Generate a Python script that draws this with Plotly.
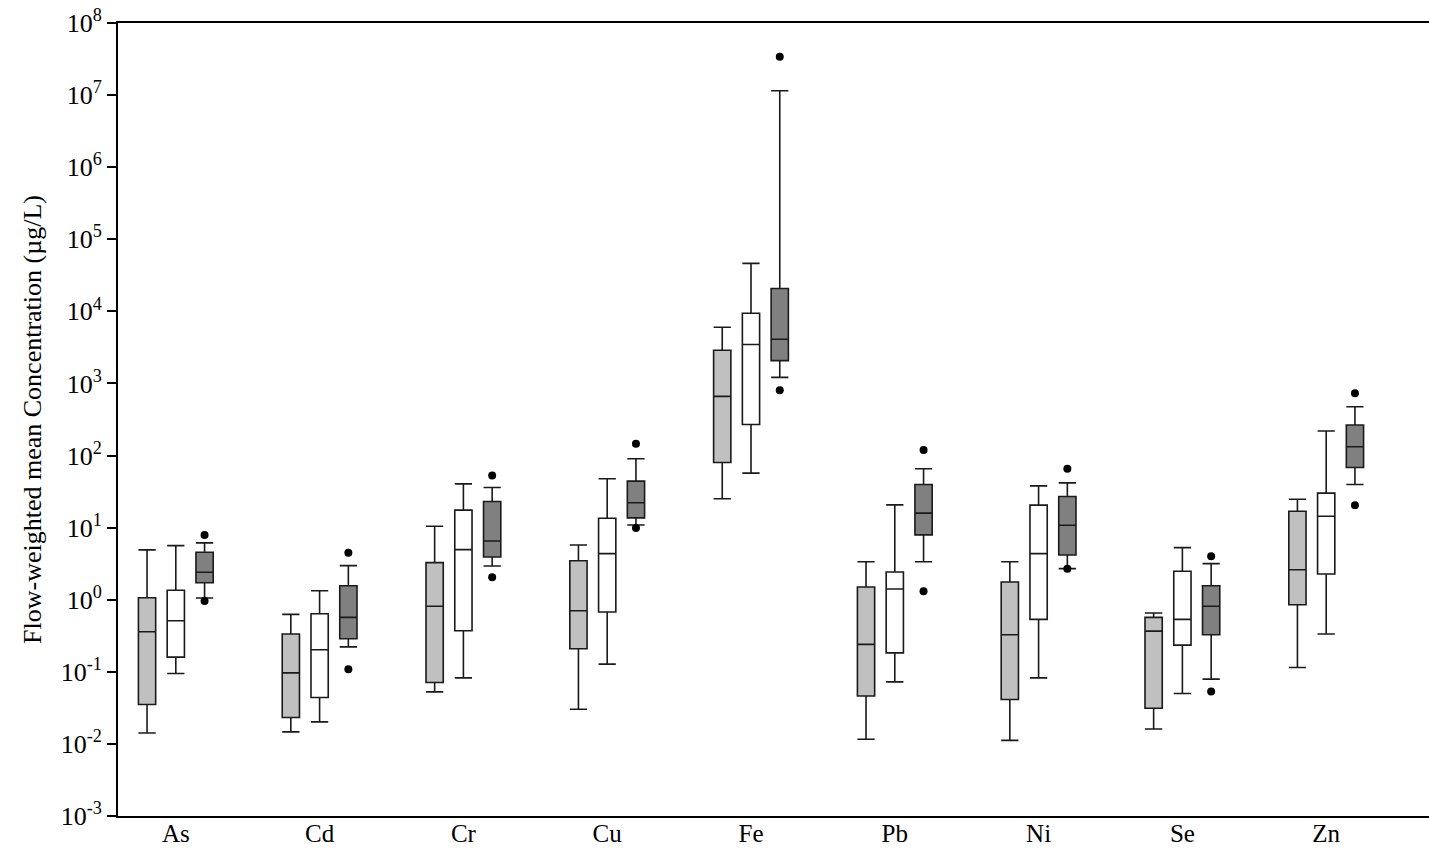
import plotly.graph_objects as go

categories = ["As", "Cd", "Cr", "Cu", "Fe", "Pb", "Ni", "Se", "Zn"]

# Light grey series
light_lowerfence = [0.0142, 0.0147, 0.0527, 0.0303, 25.1, 0.0116, 0.0112, 0.0161, 0.115]
light_q1 = [0.0352, 0.0232, 0.0711, 0.2085, 80.1, 0.0463, 0.0413, 0.0313, 0.852]
light_median = [0.359, 0.0967, 0.810, 0.703, 662, 0.240, 0.326, 0.367, 2.61]
light_q3 = [1.066, 0.334, 3.27, 3.48, 2884, 1.501, 1.762, 0.569, 16.9]
light_upperfence = [4.91, 0.627, 10.47, 5.75, 6026, 3.37, 3.37, 0.653, 24.8]

# White series
white_lowerfence = [0.0949, 0.0202, 0.0824, 0.1278, 57.1, 0.0725, 0.0824, 0.0500, 0.334]
white_q1 = [0.160, 0.0440, 0.371, 0.675, 270, 0.1834, 0.534, 0.2347, 2.276]
white_median = [0.511, 0.2019, 4.95, 4.36, 3462, 1.408, 4.36, 0.534, 14.42]
white_q3 = [1.351, 0.639, 17.5, 13.5, 9420, 2.426, 20.5, 2.48, 30.1]
white_upperfence = [5.63, 1.334, 40.5, 47.6, 46240, 20.7, 38.0, 5.28, 218.8]

# Dark grey series
dark_lowerfence = [1.056, 0.222, 2.94, 10.9, 1216, 3.37, 2.70, 0.0791, 39.6]
dark_q1 = [1.72, 0.287, 3.92, 13.66, 2075, 7.93, 4.18, 0.326, 68.3]
dark_median = [2.405, 0.569, 6.54, 22.1, 4102, 15.9, 10.81, 0.810, 132.4]
dark_q3 = [4.56, 1.565, 23.0, 44.2, 20790, 39.6, 27.0, 1.565, 265]
dark_upperfence = [6.14, 2.97, 36.0, 90.2, 1.146e7, 65.5, 41.8, 3.17, 476]
dark_outlier_high = [7.93, 4.50, 52.9, 145.8, 3.40e7, 119.2, 65.5, 4.01, 729]
dark_outlier_low = [0.959, 0.1089, 2.05, 9.92, 802, 1.308, 2.68, 0.0533, 20.5]

ytick_exponents = [-3, -2, -1, 0, 1, 2, 3, 4, 5, 6, 7, 8]

FONT = "Liberation Serif, Times New Roman, serif"
OFFSET = 0.2
BOX_W = 0.12
LINE = dict(color="#1a1a1a", width=1.6)

idx = list(range(len(categories)))

fig = go.Figure()

series = [
    (-OFFSET, "#c0c0c0", light_lowerfence, light_q1, light_median, light_q3, light_upperfence),
    (0.0, "#ffffff", white_lowerfence, white_q1, white_median, white_q3, white_upperfence),
    (OFFSET, "#808080", dark_lowerfence, dark_q1, dark_median, dark_q3, dark_upperfence),
]

for off, fill, lf, q1, med, q3, uf in series:
    fig.add_trace(go.Box(
        x=[i + off for i in idx],
        lowerfence=lf, q1=q1, median=med, q3=q3, upperfence=uf,
        width=BOX_W, whiskerwidth=1,
        fillcolor=fill, line=LINE,
        boxpoints=False, showlegend=False, hoverinfo="skip",
    ))

fig.add_trace(go.Scatter(
    x=[i + OFFSET for i in idx] * 2,
    y=dark_outlier_high + dark_outlier_low,
    mode="markers",
    marker=dict(color="black", size=8),
    showlegend=False, hoverinfo="skip",
))

fig.update_layout(
    width=1429, height=848,
    margin=dict(l=118, r=0, t=23, b=32, autoexpand=False),
    paper_bgcolor="white", plot_bgcolor="white",
    font=dict(family=FONT, color="black", size=26),
    showlegend=False,
)

fig.update_xaxes(
    range=[-0.402, 8.715],
    tickmode="array", tickvals=idx, ticktext=categories,
    ticks="", showgrid=False, zeroline=False, automargin=False,
    ticklabelstandoff=-6,
    showline=True, linecolor="black", linewidth=2, mirror=True,
    tickfont=dict(family=FONT, size=25, color="black"),
)

fig.update_yaxes(
    type="log", range=[-3, 8],
    tickmode="array",
    tickvals=[10 ** e for e in ytick_exponents],
    ticktext=[f"10<sup>{e}</sup>" for e in ytick_exponents],
    ticks="outside", ticklen=9, tickwidth=2, tickcolor="black",
    showgrid=False, zeroline=False, automargin=False,
    showline=True, linecolor="black", linewidth=2,
    tickfont=dict(family=FONT, size=26, color="black"),
    title=dict(text="Flow-weighted mean Concentration (µg/L)",
               font=dict(family=FONT, size=26, color="black"), standoff=12),
)

fig.write_html("out.html")
